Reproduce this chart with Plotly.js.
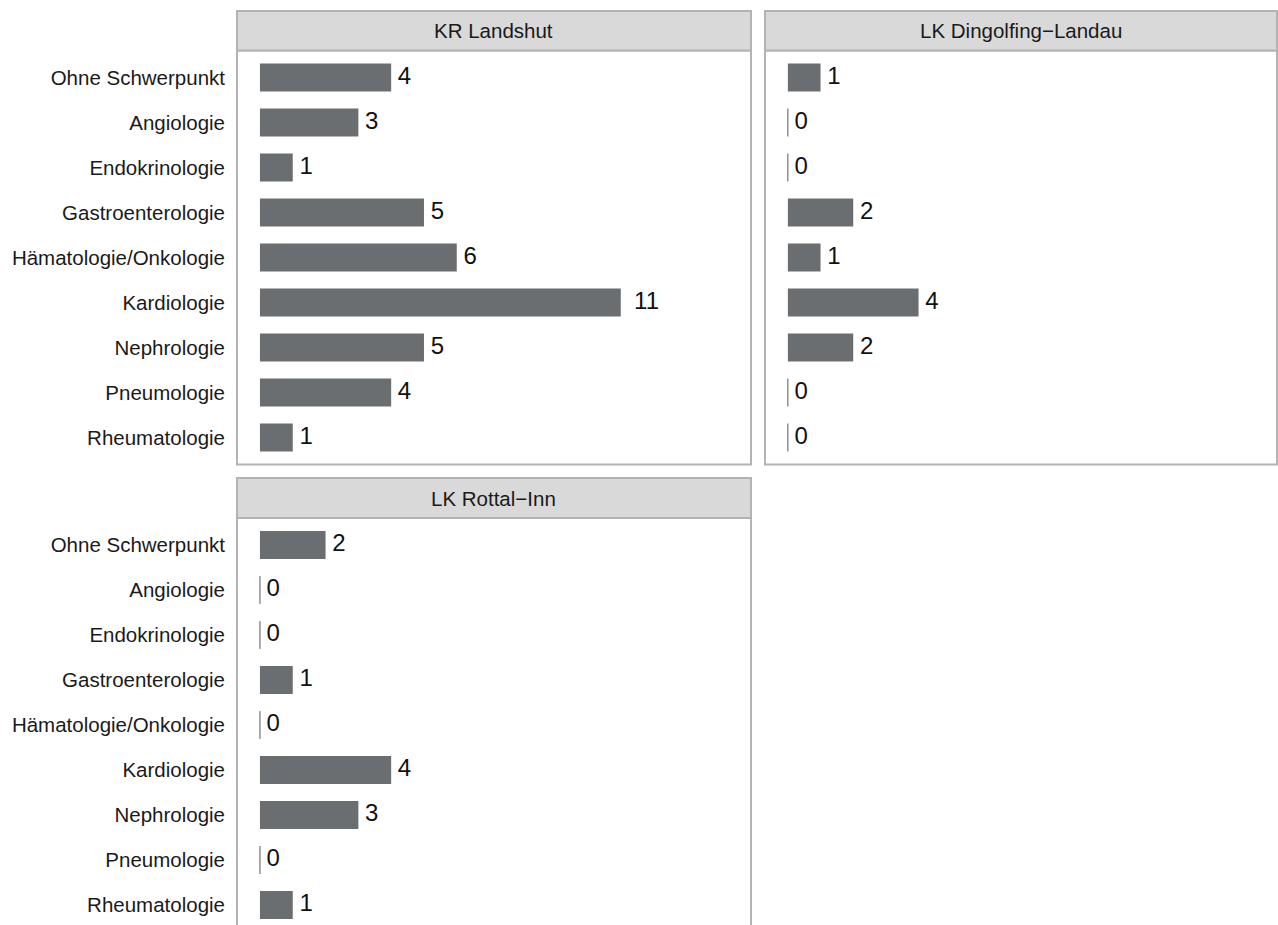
<!DOCTYPE html>
<html>
<head>
<meta charset="utf-8">
<script src="https://cdn.plot.ly/plotly-3.0.1.min.js"></script>
<style>
html, body { margin:0; padding:0; overflow:hidden; background:#fff; }
#chart { width:1278px; height:940px; }
</style>
</head>
<body>
<div id="chart"></div>
<script>
// ---- data ----
const categories = ["Ohne Schwerpunkt","Angiologie","Endokrinologie","Gastroenterologie","Hämatologie/Onkologie","Kardiologie","Nephrologie","Pneumologie","Rheumatologie"];
const panelTitles = ["KR Landshut","LK Dingolfing\u2212Landau","LK Rottal\u2212Inn"];
const valuesLandshut = [4,3,1,5,6,11,5,4,1];
const valuesDingolfing = [1,0,0,2,1,4,2,0,0];
const valuesRottal = [2,0,0,1,0,4,3,0,1];

// ---- layout helpers ----
const W = 1278, H = 940;
const FONT = '"Liberation Sans", Arial, Helvetica, sans-serif';
const BAR_COLOR = '#6b6e71';
const BORDER = '#b3b3b3';
const STRIP_FILL = '#d9d9d9';
const BAR_W = 0.62;

const panels = [
  {vals: valuesLandshut, title: panelTitles[0], x: [237, 751], strip: [11, 50.5], plot: [50.5, 464.5], xa: 'x', ya: 'y', showY: true},
  {vals: valuesDingolfing, title: panelTitles[1], x: [765, 1277], strip: [11, 50.5], plot: [50.5, 464.5], xa: 'x2', ya: 'y2', showY: false},
  {vals: valuesRottal, title: panelTitles[2], x: [237, 751], strip: [478, 518], plot: [518, 932], xa: 'x3', ya: 'y3', showY: true}
];

const px = v => v / W;
const py = v => 1 - v / H;

const traces = [];
const shapes = [];
const annotations = [];
const layout = {
  width: W, height: H,
  margin: {l:0, r:0, t:0, b:0},
  paper_bgcolor: '#fff', plot_bgcolor: '#fff',
  showlegend: false,
  font: {family: FONT, color: '#1a1a1a'},
  hovermode: false
};

panels.forEach((p, k) => {
  const suffix = k === 0 ? '' : String(k + 1);
  traces.push({
    type: 'bar', orientation: 'h',
    x: p.vals, y: categories,
    xaxis: p.xa, yaxis: p.ya,
    width: BAR_W,
    marker: {color: BAR_COLOR, line: {width: 0}},
    hoverinfo: 'skip'
  });
  traces.push({
    type: 'scatter', mode: 'text',
    x: p.vals, y: categories,
    xaxis: p.xa, yaxis: p.ya,
    text: p.vals.map(v => '\u00A0'.repeat(String(v).length) + v),
    textposition: 'middle right',
    textfont: {family: FONT, size: 24, color: '#111'},
    cliponaxis: false,
    hoverinfo: 'skip'
  });
  layout['xaxis' + suffix] = {
    domain: [px(p.x[0]), px(p.x[1])],
    anchor: p.ya,
    range: [-0.70, 14.97],
    showticklabels: false, showgrid: false, zeroline: false, ticks: '', showline: false,
    fixedrange: true
  };
  layout['yaxis' + suffix] = {
    domain: [py(p.plot[1]), py(p.plot[0])],
    anchor: p.xa,
    type: 'category',
    categoryorder: 'array', categoryarray: categories,
    range: [categories.length - 0.4, -0.6],
    showticklabels: p.showY,
    ticks: '', ticklabelstandoff: 11,
    tickfont: {family: FONT, size: 20.5, color: '#1a1a1a'},
    showgrid: false, zeroline: false, showline: false,
    fixedrange: true
  };
  // zero-value bars drawn as thin lines
  p.vals.forEach((v, i) => {
    if (v === 0) {
      shapes.push({type: 'line', xref: p.xa, yref: p.ya,
        x0: v, x1: v, y0: i - BAR_W / 2, y1: i + BAR_W / 2,
        line: {color: '#55595c', width: 1}});
    }
  });
  // panel border
  shapes.push({type: 'rect', xref: 'paper', yref: 'paper',
    x0: px(p.x[0]), x1: px(p.x[1]), y0: py(p.plot[1]), y1: py(p.plot[0]),
    line: {color: BORDER, width: 2}, fillcolor: 'rgba(0,0,0,0)'});
  // strip
  shapes.push({type: 'rect', xref: 'paper', yref: 'paper',
    x0: px(p.x[0]), x1: px(p.x[1]), y0: py(p.strip[1]), y1: py(p.strip[0]),
    line: {color: BORDER, width: 2}, fillcolor: STRIP_FILL});
  annotations.push({xref: 'paper', yref: 'paper',
    x: px((p.x[0] + p.x[1]) / 2), y: py((p.strip[0] + p.strip[1]) / 2),
    text: p.title, showarrow: false, xanchor: 'center', yanchor: 'middle',
    font: {family: FONT, size: 20.5, color: '#1a1a1a'}});
});

layout.shapes = shapes;
layout.annotations = annotations;

Plotly.newPlot('chart', traces, layout, {displayModeBar: false, staticPlot: true});
</script>
</body>
</html>
